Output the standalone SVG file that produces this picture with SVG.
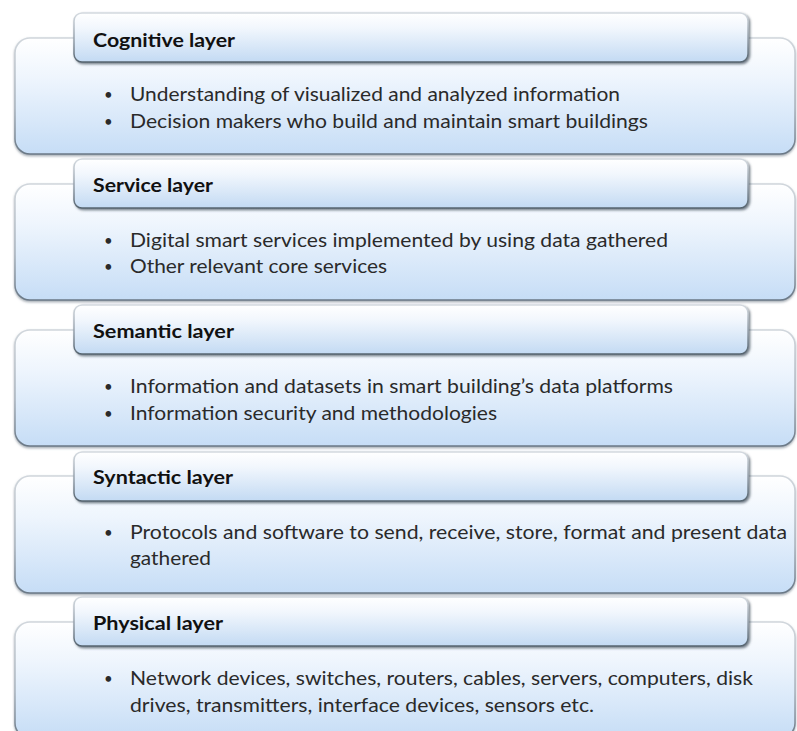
<svg xmlns="http://www.w3.org/2000/svg" width="797" height="731" viewBox="0 0 797 731">
<style>
.big{fill:url(#gBig);stroke:url(#sBig);stroke-width:1.5;filter:url(#sh)}
.hdr{fill:url(#gHdr);stroke:url(#sHdr);stroke-width:1.5;filter:url(#sh2)}
.ht{font-family:Lato,"Open Sans",sans-serif;font-weight:bold;font-size:19px;fill:#111}
.bt{font-family:Lato,"Open Sans",sans-serif;font-size:19px;fill:#2a2a2a}
.bl{font-family:Lato,"Open Sans",sans-serif;font-size:15px;fill:#2a2a2a}
</style>
<defs>
<linearGradient id="gBig" x1="0" y1="0" x2="0" y2="1">
<stop offset="0" stop-color="#ffffff"/>
<stop offset="0.35" stop-color="#eef5fd"/>
<stop offset="1" stop-color="#c6ddf6"/>
</linearGradient>
<linearGradient id="sBig" x1="0" y1="0" x2="0" y2="1">
<stop offset="0" stop-color="#d0d6dc"/>
<stop offset="0.6" stop-color="#a8b2bc"/>
<stop offset="1" stop-color="#6a7886"/>
</linearGradient>
<linearGradient id="gHdr" x1="0" y1="0" x2="0" y2="1">
<stop offset="0" stop-color="#ffffff"/>
<stop offset="0.3" stop-color="#f2f7fd"/>
<stop offset="1" stop-color="#c3daf3"/>
</linearGradient>
<linearGradient id="sHdr" x1="0" y1="0" x2="0" y2="1">
<stop offset="0" stop-color="#d4dae0"/>
<stop offset="0.6" stop-color="#8e9aa6"/>
<stop offset="1" stop-color="#56646f"/>
</linearGradient>
<filter id="sh" x="-5%" y="-10%" width="110%" height="125%">
<feDropShadow dx="0" dy="1.5" stdDeviation="1.2" flood-color="#5a6774" flood-opacity="0.55"/>
</filter>
<filter id="sh2" x="-5%" y="-20%" width="110%" height="150%">
<feDropShadow dx="1.5" dy="1.5" stdDeviation="1.2" flood-color="#3e4a56" flood-opacity="0.7"/>
</filter>
</defs>

<g id="cognitive">
<rect class="big" x="15" y="38" width="780" height="116" rx="15"/>
<rect class="hdr" x="74" y="13" width="674" height="49" rx="8"/>
<text class="ht" x="93" y="47" textLength="142" lengthAdjust="spacingAndGlyphs">Cognitive layer</text>
<text class="bl" x="104" y="100">•</text>
<text class="bt" x="130" y="101" textLength="490" lengthAdjust="spacingAndGlyphs">Understanding of visualized and analyzed information</text>
<text class="bl" x="104" y="127">•</text>
<text class="bt" x="130" y="128" textLength="518" lengthAdjust="spacingAndGlyphs">Decision makers who build and maintain smart buildings</text>
</g>

<g id="service">
<rect class="big" x="15" y="184" width="780" height="116" rx="15"/>
<rect class="hdr" x="74" y="159" width="674" height="49" rx="8"/>
<text class="ht" x="93" y="192" textLength="120" lengthAdjust="spacingAndGlyphs">Service layer</text>
<text class="bl" x="104" y="246">•</text>
<text class="bt" x="130" y="247" textLength="538" lengthAdjust="spacingAndGlyphs">Digital smart services implemented by using data gathered</text>
<text class="bl" x="104" y="272">•</text>
<text class="bt" x="130" y="273" textLength="257" lengthAdjust="spacingAndGlyphs">Other relevant core services</text>
</g>

<g id="semantic">
<rect class="big" x="15" y="330" width="780" height="116" rx="15"/>
<rect class="hdr" x="74" y="305" width="674" height="49" rx="8"/>
<text class="ht" x="93" y="338" textLength="141" lengthAdjust="spacingAndGlyphs">Semantic layer</text>
<text class="bl" x="104" y="392">•</text>
<text class="bt" x="130" y="393" textLength="543" lengthAdjust="spacingAndGlyphs">Information  and datasets in smart building’s data platforms</text>
<text class="bl" x="104" y="419">•</text>
<text class="bt" x="130" y="420" textLength="367" lengthAdjust="spacingAndGlyphs">Information  security and methodologies</text>
</g>

<g id="syntactic">
<rect class="big" x="15" y="476" width="780" height="117" rx="15"/>
<rect class="hdr" x="74" y="452" width="674" height="49" rx="8"/>
<text class="ht" x="93" y="484" textLength="140" lengthAdjust="spacingAndGlyphs">Syntactic layer</text>
<text class="bl" x="104" y="538">•</text>
<text class="bt" x="130" y="539" textLength="657" lengthAdjust="spacingAndGlyphs">Protocols and software to send, receive, store, format and present data</text>
<text class="bt" x="130" y="565" textLength="81" lengthAdjust="spacingAndGlyphs">gathered</text>
</g>

<g id="physical">
<rect class="big" x="15" y="622" width="780" height="116" rx="15"/>
<rect class="hdr" x="74" y="597" width="674" height="49" rx="8"/>
<text class="ht" x="93" y="630" textLength="130" lengthAdjust="spacingAndGlyphs">Physical layer</text>
<text class="bl" x="104" y="684">•</text>
<text class="bt" x="130" y="685" textLength="623" lengthAdjust="spacingAndGlyphs">Network devices, switches, routers, cables, servers, computers, disk</text>
<text class="bt" x="130" y="712" textLength="464" lengthAdjust="spacingAndGlyphs">drives, transmitters, interface devices, sensors etc.</text>
</g>

<g id="connectors"></g>
</svg>
